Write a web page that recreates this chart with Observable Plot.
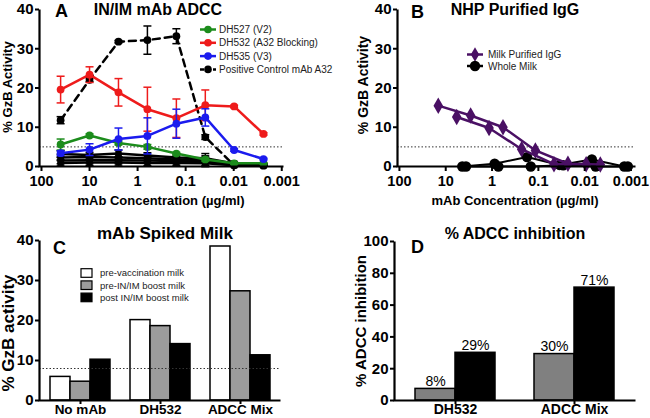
<!DOCTYPE html>
<html><head><meta charset="utf-8">
<script src="https://cdn.jsdelivr.net/npm/d3@7"></script>
<script src="https://cdn.jsdelivr.net/npm/@observablehq/plot@0.6"></script>
<style>
body{margin:0;background:#fff;}
#fig{position:relative;width:650px;height:418px;overflow:hidden;background:#fff;}
#fig svg{position:absolute;overflow:visible;}
</style></head><body><div id="fig"></div>
<script>
// ---------- Panel A data ----------
const concA = [40, 10, 2.5, 0.625, 0.156, 0.039, 0.0098, 0.0024];
const namesA = ["DH527 (V2)", "DH532 (A32 Blocking)", "DH535 (V3)", "Positive Control mAb A32"];
const dh527 = [5.6, 7.9, 6.0, 5.0, 3.3, 1.8, 0.8, 0.8];
const dh527Err = [1.4, 0.4, 0.5, 0.6, 0.3, 0.4, 0.2, 0.2];
const dh532 = [19.6, 23.4, 18.9, 14.6, 12.3, 15.6, 15.3, 8.3];
const dh532Err = [3.4, 2.0, 3.5, 5.6, 4.9, 3.9, 0.3, 0.3];
const dh535 = [3.4, 4.3, 7.0, 7.8, 10.9, 12.5, 4.2, 1.9];
const dh535Err = [0.6, 1.5, 2.8, 4.6, 3.7, 2.2, 0.3, 0.2];
const a32 = [11.8, 22.1, 31.8, 32.2, 33.2, 7.5, 0.3, 0.2];
const a32Err = [0.9, 0.5, 0.3, 3.6, 1.9, 0.6, 0.2, 0.2];
const negNames = ["neg 1", "neg 2", "neg 3", "neg 4"];
const neg1 = [3.2, 2.9, 3.3, 2.8, 2.3, 2.1, 0.8, 0.6];
const neg2 = [2.3, 2.4, 2.3, 2.1, 1.8, 1.5, 0.6, 0.5];
const neg3 = [1.5, 1.6, 1.6, 1.5, 1.4, 1.1, 0.4, 0.4];
const neg4 = [0.9, 1.0, 1.0, 0.9, 0.9, 0.8, 0.3, 0.3];
const negErr = [0.8, 0.7, 0.9, 0.7, 0.6, 1.2, 0.3, 0.2];
const ticksLog = [100, 10, 1, 0.1, 0.01, 0.001];
const ticksA = [0, 10, 20, 30, 40];
const cutoffA = 5;

// ---------- Panel B data ----------
const namesB = ["Milk Purified  IgG", "Whole Milk"];
const concP1 = [14.5, 2.9, 0.58, 0.116, 0.023, 0.0046];
const milkIgG1 = [15.5, 13.0, 10.0, 4.1, 0.7, 0.5];
const concP2 = [5.8, 1.16, 0.23, 0.046, 0.0093];
const milkIgG2 = [12.6, 9.8, 4.4, 0.6, 0.6];
const concW1 = [4.4, 0.88, 0.176, 0.035, 0.007, 0.0014];
const wholeMilk1 = [0, 0.7, 2.4, 0.4, 1.8, 0];
const concW2 = [3.65, 0.73, 0.146, 0.029, 0.0058, 0.00117];
const wholeMilk2 = [0, 0, 0, 0.3, 0, 0];

// ---------- Panel C data ----------
const groupsC = ["No mAb", "DH532", "ADCC Mix"];
const seriesC = ["pre-vaccination milk", "pre-IN/IM boost milk", "post IN/IM boost milk"];
const preVacc = [5.9, 20.1, 38.5];
const preBoost = [4.7, 18.6, 27.3];
const postBoost = [10.2, 14.1, 11.3];
const cutoffC = 8;

// ---------- Panel D data ----------
const groupsD = ["DH532", "ADCC Mix"];
const preBoostInhib = [7.3, 29.2];
const postBoostInhib = [30.0, 71.0];
const preLabels = ["8%", "30%"];
const postLabels = ["29%", "71%"];
const ticksD = [0, 20, 40, 60, 80, 100];

// ---------- styles ----------
const FONT = '"Liberation Sans", Arial, Helvetica, sans-serif';
const colA = {"DH527 (V2)": "#1c8c1c", "DH532 (A32 Blocking)": "#ee1b1b", "DH535 (V3)": "#1b1bee", "Positive Control mAb A32": "#000"};
const purple = "#4a1064";
const grayC = "#9c9c9c", grayD = "#808080";
const cap = {draw(ctx, size) { const r = Math.sqrt(size / Math.PI); ctx.moveTo(-r, 0); ctx.lineTo(r, 0); }};
const fig = document.getElementById("fig");
function place(svg, left, top) { svg.style.left = left + "px"; svg.style.top = top + "px"; fig.appendChild(svg); }
function lFrame(w, h, ml, mr, mt, mb) {
  const s = (w - ml - mr) + (h - mt - mb);
  return Plot.frame({stroke: "black", strokeWidth: 2.2, strokeDasharray: `0 ${s} ${s} 0`});
}
const baseStyle = {fontFamily: FONT, color: "black", background: "transparent", overflow: "visible"};

// ---------- Panel A ----------
const rowsOf = (name, vals, errs, conc) => vals.map((v, i) => ({name, c: conc[i], v, e: errs ? errs[i] : 0}));
const negRows = [neg1, neg2, neg3, neg4].map((s, k) => rowsOf(negNames[k], s, negErr, concA));
const rowsA = [dh527, dh532, dh535, a32].map((s, k) => rowsOf(namesA[k], s, [dh527Err, dh532Err, dh535Err, a32Err][k], concA));
function errMarks(rows, stroke) {
  return [
    Plot.link(rows, {x1: "c", x2: "c", y1: d => Math.max(0, d.v - d.e), y2: d => d.v + d.e, stroke, strokeWidth: 1.5}),
    Plot.dot(rows, {x: "c", y: d => d.v + d.e, symbol: cap, r: 4, stroke, strokeWidth: 1.5}),
    Plot.dot(rows, {x: "c", y: d => Math.max(0, d.v - d.e), symbol: cap, r: 4, stroke, strokeWidth: 1.5})
  ];
}
const WA = 325, HA = 210, mA = {l: 39, r: 42, t: 9, b: 44};
const marksA = [Plot.ruleY([cutoffA], {stroke: "#333", strokeWidth: 1, strokeDasharray: "1.5,2"})];
negRows.forEach(r => marksA.push(
  Plot.line(r, {x: "c", y: "v", stroke: "black", strokeWidth: 2.5}),
  ...errMarks(r, "black"),
  Plot.dot(r, {x: "c", y: "v", symbol: "square", r: 3.6, fill: "black"})));
[3, 0, 1, 2].forEach(k => {
  const r = rowsA[k], c = colA[namesA[k]];
  marksA.push(
    Plot.line(r, {x: "c", y: "v", stroke: c, strokeWidth: 2.5, strokeDasharray: k === 3 ? "7,5" : null}),
    ...errMarks(r, c),
    Plot.dot(r, {x: "c", y: "v", r: 3.9, fill: c}));
});
const axXlog = () => Plot.axisX({ticks: ticksLog, tickFormat: d => String(d), tickSize: 5, tickPadding: 4, strokeWidth: 2, fontSize: 14.5, fontWeight: "bold", label: null});
marksA.push(
  lFrame(WA, HA, mA.l, mA.r, mA.t, mA.b),
  axXlog(),
  Plot.axisY({ticks: ticksA, tickSize: 4, tickPadding: 2, strokeWidth: 2, fontSize: 15, fontWeight: "bold", label: null}));
place(Plot.plot({width: WA, height: HA, marginLeft: mA.l, marginRight: mA.r, marginTop: mA.t, marginBottom: mA.b,
  x: {type: "log", domain: [110, 0.00092]}, y: {domain: [0, 40]}, style: baseStyle, marks: marksA}), 0, 0);

// ---------- Panel B ----------
const WB = 330, HB = 210, mB = {l: 77, r: 15, t: 9, b: 44};
const p1 = rowsOf("p1", milkIgG1, null, concP1), p2 = rowsOf("p2", milkIgG2, null, concP2);
const w1 = rowsOf("w1", wholeMilk1, null, concW1), w2 = rowsOf("w2", wholeMilk2, null, concW2);
const marksB = [Plot.ruleY([cutoffA], {stroke: "#333", strokeWidth: 1, strokeDasharray: "1.5,2"})];
[w1, w2].forEach(r => marksB.push(
  Plot.line(r, {x: "c", y: "v", stroke: "black", strokeWidth: 2}),
  Plot.dot(r, {x: "c", y: "v", r: 5.2, fill: "black"})));
[p1, p2].forEach(r => marksB.push(
  Plot.line(r, {x: "c", y: "v", stroke: purple, strokeWidth: 2.5}),
  Plot.dot(r, {x: "c", y: "v", symbol: "diamond", r: 5, fill: purple})));
marksB.push(
  lFrame(WB, HB, mB.l, mB.r, mB.t, mB.b),
  axXlog(),
  Plot.axisY({ticks: ticksA, tickSize: 4, tickPadding: 2, strokeWidth: 2, fontSize: 15, fontWeight: "bold", label: null}));
place(Plot.plot({width: WB, height: HB, marginLeft: mB.l, marginRight: mB.r, marginTop: mB.t, marginBottom: mB.b,
  x: {type: "log", domain: [110, 0.0008]}, y: {domain: [0, 40]}, style: baseStyle, marks: marksB}), 320, 0);

// ---------- Panel C ----------
const WC = 325, HC = 218, mC = {l: 39, r: 45, t: 40, b: 18};
const fillsC = ["white", grayC, "black"];
const insetsC = [{insetRight: 40}, {insetLeft: 20, insetRight: 20}, {insetLeft: 40}];
const marksC = [];
[preVacc, preBoost, postBoost].forEach((vals, k) => {
  const rows = vals.map((v, i) => ({group: groupsC[i], series: seriesC[k], v}));
  marksC.push(Plot.barY(rows, {x: "group", y: "v", fill: fillsC[k], stroke: "black", strokeWidth: 1.5, ...insetsC[k]}));
});
marksC.push(
  Plot.ruleY([cutoffC], {stroke: "#333", strokeWidth: 1, strokeDasharray: "1.5,2"}),
  lFrame(WC, HC, mC.l, mC.r, mC.t, mC.b),
  Plot.axisX({tickSize: 4, tickPadding: 0, strokeWidth: 2, fontSize: 13.5, fontWeight: "bold", label: null}),
  Plot.axisY({ticks: ticksA, tickSize: 4, tickPadding: 2, strokeWidth: 2, fontSize: 15, fontWeight: "bold", label: null}));
place(Plot.plot({width: WC, height: HC, marginLeft: mC.l, marginRight: mC.r, marginTop: mC.t, marginBottom: mC.b,
  x: {type: "band", domain: groupsC, paddingInner: 0.25, paddingOuter: 0.13}, y: {domain: [0, 40]}, style: baseStyle, marks: marksC}), 0, 200);

// ---------- Panel D ----------
const WD = 330, HD = 218, mD = {l: 74, r: 15, t: 41, b: 18};
const rowsPre = preBoostInhib.map((v, i) => ({group: groupsD[i], v, label: preLabels[i]}));
const rowsPost = postBoostInhib.map((v, i) => ({group: groupsD[i], v, label: postLabels[i]}));
const marksD = [
  Plot.barY(rowsPre, {x: "group", y: "v", fill: grayD, stroke: "black", strokeWidth: 1.5, insetRight: 40}),
  Plot.barY(rowsPost, {x: "group", y: "v", fill: "black", stroke: "black", strokeWidth: 1.5, insetLeft: 40}),
  Plot.text(rowsPre, {x: "group", y: "v", text: "label", dx: -20, dy: -3, lineAnchor: "bottom", fontSize: 14, fill: "black"}),
  Plot.text(rowsPost, {x: "group", y: "v", text: "label", dx: 20, dy: -3, lineAnchor: "bottom", fontSize: 14, fill: "black"}),
  lFrame(WD, HD, mD.l, mD.r, mD.t, mD.b),
  Plot.axisX({tickSize: 4, tickPadding: 0, strokeWidth: 2, fontSize: 14, fontWeight: "bold", label: null}),
  Plot.axisY({ticks: ticksD, tickSize: 4, tickPadding: 2, strokeWidth: 2, fontSize: 15, fontWeight: "bold", label: null})];
place(Plot.plot({width: WD, height: HD, marginLeft: mD.l, marginRight: mD.r, marginTop: mD.t, marginBottom: mD.b,
  x: {type: "band", domain: groupsD, paddingInner: 0.33, paddingOuter: 0.175}, y: {domain: [0, 100]}, style: baseStyle, marks: marksD}), 320, 200);

// ---------- Overlay: titles, labels, legends ----------
const ov = d3.select(fig).append("svg").attr("width", 650).attr("height", 418)
  .style("left", "0px").style("top", "0px").style("font-family", FONT);
function txt(s, x, y, o = {}) {
  const t = ov.append("text").attr("x", x).attr("y", y).text(s)
    .attr("font-size", o.size || 12).attr("font-weight", o.weight || "normal")
    .attr("text-anchor", o.anchor || "start").attr("fill", o.fill || "black");
  if (o.rotate) t.attr("transform", `rotate(${o.rotate},${x},${y})`).attr("dominant-baseline", "central");
  return t;
}
// A
txt("A", 55, 17, {size: 18, weight: "bold"});
txt("IN/IM mAb ADCC", 158, 15, {size: 16, weight: "bold", anchor: "middle"});
txt("% GzB Activity", 7, 87, {size: 13, weight: "bold", anchor: "middle", rotate: -90});
txt("mAb Concentration (\u00b5g/ml)", 161, 205, {size: 13, weight: "bold", anchor: "middle"});
namesA.forEach((n, i) => {
  const y = 29.5 + i * 13.3, c = colA[n];
  ov.append("line").attr("x1", 200).attr("x2", 216).attr("y1", y).attr("y2", y).attr("stroke", c).attr("stroke-width", 2.5)
    .attr("stroke-dasharray", i === 3 ? "4,2.5" : null);
  ov.append("circle").attr("cx", 208).attr("cy", y).attr("r", 3.8).attr("fill", c);
  txt(n, 219, y + 3.5, {size: 10, fill: "#222"});
});
// B
txt("B", 411, 18, {size: 18, weight: "bold"});
txt("NHP Purified IgG", 515, 15, {size: 16, weight: "bold", anchor: "middle"});
txt("% GzB Activity", 363, 85, {size: 14, weight: "bold", anchor: "middle", rotate: -90});
txt("mAb Concentration (\u00b5g/ml)", 515, 205, {size: 13, weight: "bold", anchor: "middle"});
namesB.forEach((n, i) => {
  const y = 54.5 + i * 11.5, c = i === 0 ? purple : "black";
  ov.append("line").attr("x1", 467).attr("x2", 483).attr("y1", y).attr("y2", y).attr("stroke", c).attr("stroke-width", 2.5);
  ov.append("path").attr("transform", `translate(475,${y})`).attr("fill", c)
    .attr("d", d3.symbol(i === 0 ? d3.symbolDiamond : d3.symbolCircle, i === 0 ? 60 : 85)());
  txt(n, 488, y + 3.5, {size: 10, fill: "#222"});
});
// C
txt("C", 53, 254, {size: 18, weight: "bold"});
txt("mAb Spiked Milk", 165, 239, {size: 17, weight: "bold", anchor: "middle"});
txt("% GzB activity", 8, 333, {size: 17, weight: "bold", anchor: "middle", rotate: -90});
seriesC.forEach((n, i) => {
  const y = 273 + i * 12.2;
  ov.append("rect").attr("x", 81).attr("y", y - 4.3).attr("width", 11).attr("height", 8.6)
    .attr("fill", fillsC[i]).attr("stroke", "black").attr("stroke-width", 1.2);
  txt(n, 100, y + 3.3, {size: 9.5, fill: "#222"});
});
// D
txt("D", 411, 253, {size: 18, weight: "bold"});
txt("% ADCC inhibition", 515, 239, {size: 16, weight: "bold", anchor: "middle"});
txt("% ADCC inhibition", 360, 321, {size: 15, weight: "bold", anchor: "middle", rotate: -90});
</script></body></html>
